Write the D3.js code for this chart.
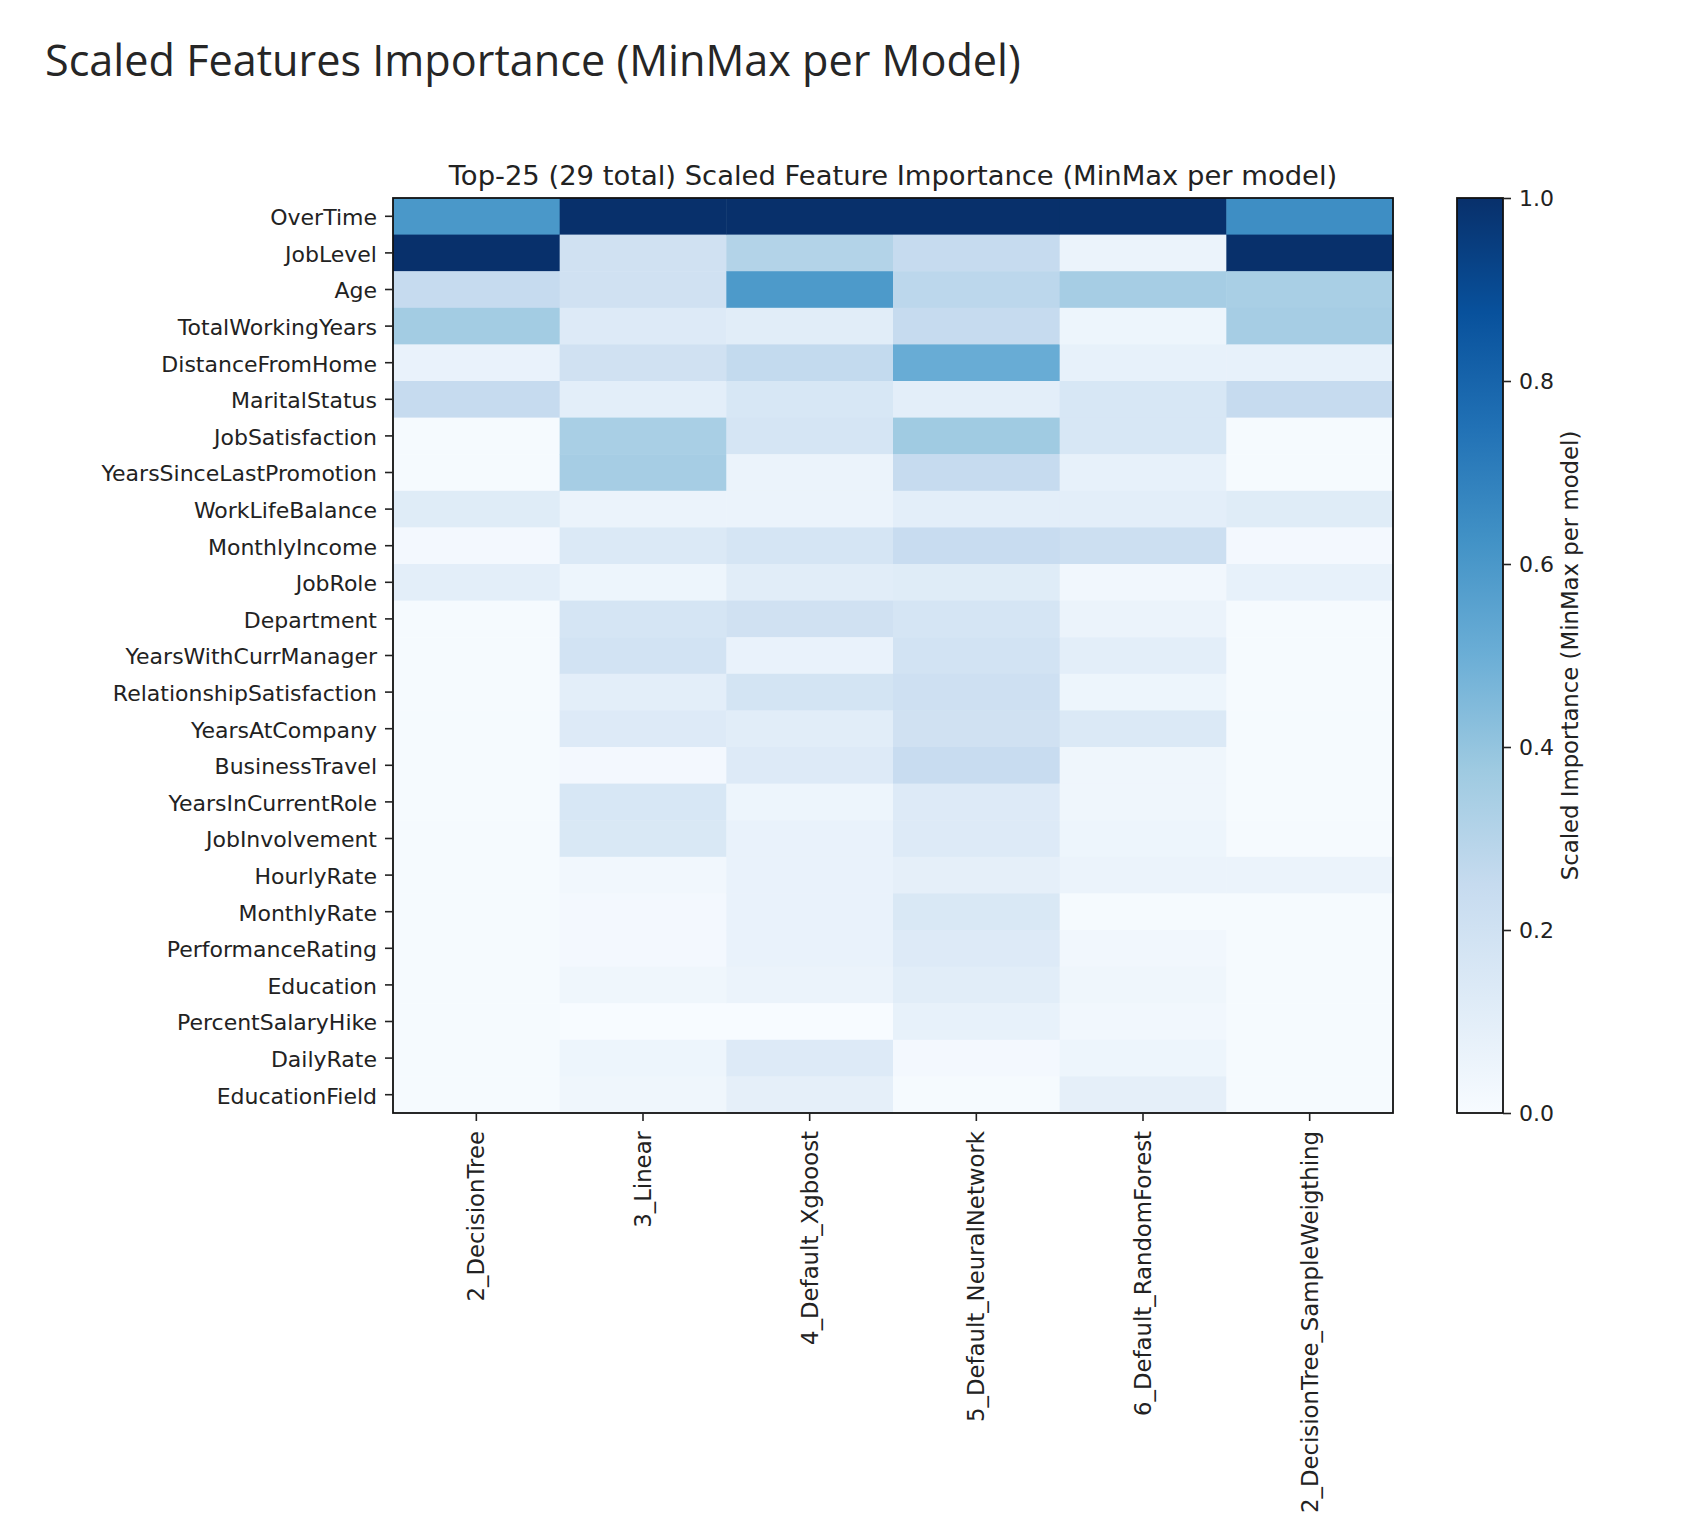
<!DOCTYPE html>
<html>
<head>
<meta charset="utf-8">
<script src="https://cdn.jsdelivr.net/npm/d3@7"></script>
<style>
  body { margin: 0; background: #fff; }
  svg text { fill: #222; }
</style>
</head>
<body>
<script>
var w = 1700;
var h = 1526;

var features = ["OverTime", "JobLevel", "Age", "TotalWorkingYears", "DistanceFromHome",
  "MaritalStatus", "JobSatisfaction", "YearsSinceLastPromotion", "WorkLifeBalance",
  "MonthlyIncome", "JobRole", "Department", "YearsWithCurrManager",
  "RelationshipSatisfaction", "YearsAtCompany", "BusinessTravel", "YearsInCurrentRole",
  "JobInvolvement", "HourlyRate", "MonthlyRate", "PerformanceRating", "Education",
  "PercentSalaryHike", "DailyRate", "EducationField"];

var models = ["2_DecisionTree", "3_Linear", "4_Default_Xgboost", "5_Default_NeuralNetwork",
  "6_Default_RandomForest", "2_DecisionTree_SampleWeigthing"];

// scaled importance per model, same order as features
var decisionTree = [0.60, 1.00, 0.25, 0.36, 0.07, 0.25, 0.01, 0.01, 0.12, 0.02, 0.10, 0.01, 0.01,
  0.01, 0.01, 0.01, 0.01, 0.01, 0.01, 0.01, 0.01, 0.01, 0.01, 0.01, 0.01];
var linear = [1.00, 0.20, 0.20, 0.13, 0.20, 0.10, 0.34, 0.35, 0.06, 0.14, 0.05, 0.17, 0.19,
  0.10, 0.13, 0.02, 0.16, 0.15, 0.03, 0.02, 0.02, 0.04, 0.00, 0.05, 0.04];
var xgboost = [1.00, 0.31, 0.59, 0.11, 0.26, 0.16, 0.17, 0.06, 0.06, 0.17, 0.11, 0.20, 0.07,
  0.18, 0.11, 0.13, 0.05, 0.07, 0.07, 0.07, 0.07, 0.06, 0.00, 0.13, 0.09];
var neuralNetwork = [1.00, 0.25, 0.28, 0.25, 0.51, 0.10, 0.37, 0.25, 0.10, 0.24, 0.12, 0.17, 0.19,
  0.21, 0.20, 0.24, 0.13, 0.13, 0.09, 0.15, 0.13, 0.11, 0.08, 0.02, 0.01];
var randomForest = [1.00, 0.06, 0.35, 0.05, 0.08, 0.16, 0.16, 0.08, 0.10, 0.22, 0.03, 0.06, 0.10,
  0.05, 0.14, 0.04, 0.04, 0.05, 0.06, 0.01, 0.03, 0.04, 0.03, 0.05, 0.09];
var decisionTreeSW = [0.64, 1.00, 0.34, 0.35, 0.08, 0.25, 0.01, 0.01, 0.12, 0.02, 0.08, 0.01, 0.01,
  0.01, 0.01, 0.01, 0.01, 0.01, 0.06, 0.01, 0.01, 0.01, 0.01, 0.01, 0.01];

var colorbarTicks = [0, 0.2, 0.4, 0.6, 0.8, 1.0];

// matplotlib "Blues" anchor colours
var blues = ["#f7fbff", "#deebf7", "#c6dbef", "#9ecae1", "#6baed6", "#4292c6", "#2171b5", "#08519c", "#08306b"];

var columns = [decisionTree, linear, xgboost, neuralNetwork, randomForest, decisionTreeSW];
var cells = [];
models.forEach(function(m, j) {
  features.forEach(function(f, i) {
    cells.push({ model: m, feature: f, value: columns[j][i] });
  });
});

var plotL = 393, plotR = 1393, plotT = 198, plotB = 1113;
var cbL = 1457, cbR = 1503;
var font = "'DejaVu Sans', sans-serif";

var svg = d3.select("body").append("svg")
    .attr("width", w)
    .attr("height", h)
    .style("font-family", font);

svg.append("text")
    .attr("x", 45)
    .attr("y", 76)
    .style("font-family", "'Open Sans', sans-serif")
    .style("font-size", "43.2px")
    .style("fill", "#262626")
    .text("Scaled Features Importance (MinMax per Model)");

var xScale = d3.scaleBand().domain(models).range([plotL, plotR]);
var yScale = d3.scaleBand().domain(features).range([plotT, plotB]);
var color = d3.scaleLinear()
    .domain(blues.map(function(d, i) { return i / (blues.length - 1); }))
    .range(blues);

svg.append("g").selectAll("rect")
    .data(cells)
    .enter()
    .append("rect")
    .attr("x", function(d) { return xScale(d.model); })
    .attr("y", function(d) { return yScale(d.feature); })
    .attr("width", xScale.bandwidth() + 0.5)
    .attr("height", yScale.bandwidth() + 0.5)
    .attr("fill", function(d) { return color(d.value); });

svg.append("rect")
    .attr("x", plotL).attr("y", plotT)
    .attr("width", plotR - plotL).attr("height", plotB - plotT)
    .attr("fill", "none").attr("stroke", "#111").attr("stroke-width", 1.8);

var yAxis = svg.append("g")
    .attr("transform", "translate(" + plotL + ",0)")
    .call(d3.axisLeft(yScale).tickSize(8).tickPadding(8))
    .attr("font-family", font);
yAxis.select(".domain").remove();
yAxis.selectAll("text").style("font-size", "22px").attr("fill", "#222").attr("dy", "0.4em");
yAxis.selectAll("line").attr("stroke", "#222").attr("stroke-width", 1.6);

var xAxis = svg.append("g")
    .attr("transform", "translate(0," + plotB + ")")
    .call(d3.axisBottom(xScale).tickSize(8))
    .attr("font-family", font);
xAxis.select(".domain").remove();
xAxis.selectAll("line").attr("stroke", "#222").attr("stroke-width", 1.6);
xAxis.selectAll("text")
    .style("font-size", "22.8px")
    .attr("fill", "#222")
    .attr("transform", "rotate(-90)")
    .attr("text-anchor", "end")
    .attr("x", -18)
    .attr("y", 0)
    .attr("dy", "0.35em");

svg.append("text")
    .attr("x", (plotL + plotR) / 2)
    .attr("y", 185)
    .attr("text-anchor", "middle")
    .style("font-size", "27.4px")
    .text("Top-25 (29 total) Scaled Feature Importance (MinMax per model)");

// colorbar
var grad = svg.append("defs").append("linearGradient")
    .attr("id", "blues")
    .attr("x1", 0).attr("y1", 1).attr("x2", 0).attr("y2", 0);
grad.selectAll("stop")
    .data(blues)
    .enter()
    .append("stop")
    .attr("offset", function(d, i) { return (i / (blues.length - 1) * 100) + "%"; })
    .attr("stop-color", function(d) { return d; });

svg.append("rect")
    .attr("x", cbL).attr("y", plotT)
    .attr("width", cbR - cbL).attr("height", plotB - plotT)
    .attr("fill", "url(#blues)")
    .attr("stroke", "#111").attr("stroke-width", 1.8);

var cScale = d3.scaleLinear().domain([0, 1]).range([plotB, plotT]);
var cAxis = svg.append("g")
    .attr("transform", "translate(" + cbR + ",0)")
    .call(d3.axisRight(cScale).tickValues(colorbarTicks).tickFormat(d3.format(".1f")).tickSize(8).tickPadding(8))
    .attr("font-family", font);
cAxis.select(".domain").remove();
cAxis.selectAll("text").style("font-size", "22px").attr("fill", "#222");
cAxis.selectAll("line").attr("stroke", "#222").attr("stroke-width", 1.6);

svg.append("text")
    .attr("transform", "translate(1578," + ((plotT + plotB) / 2) + ") rotate(-90)")
    .attr("text-anchor", "middle")
    .style("font-size", "22.8px")
    .text("Scaled Importance (MinMax per model)");
</script>
</body>
</html>
